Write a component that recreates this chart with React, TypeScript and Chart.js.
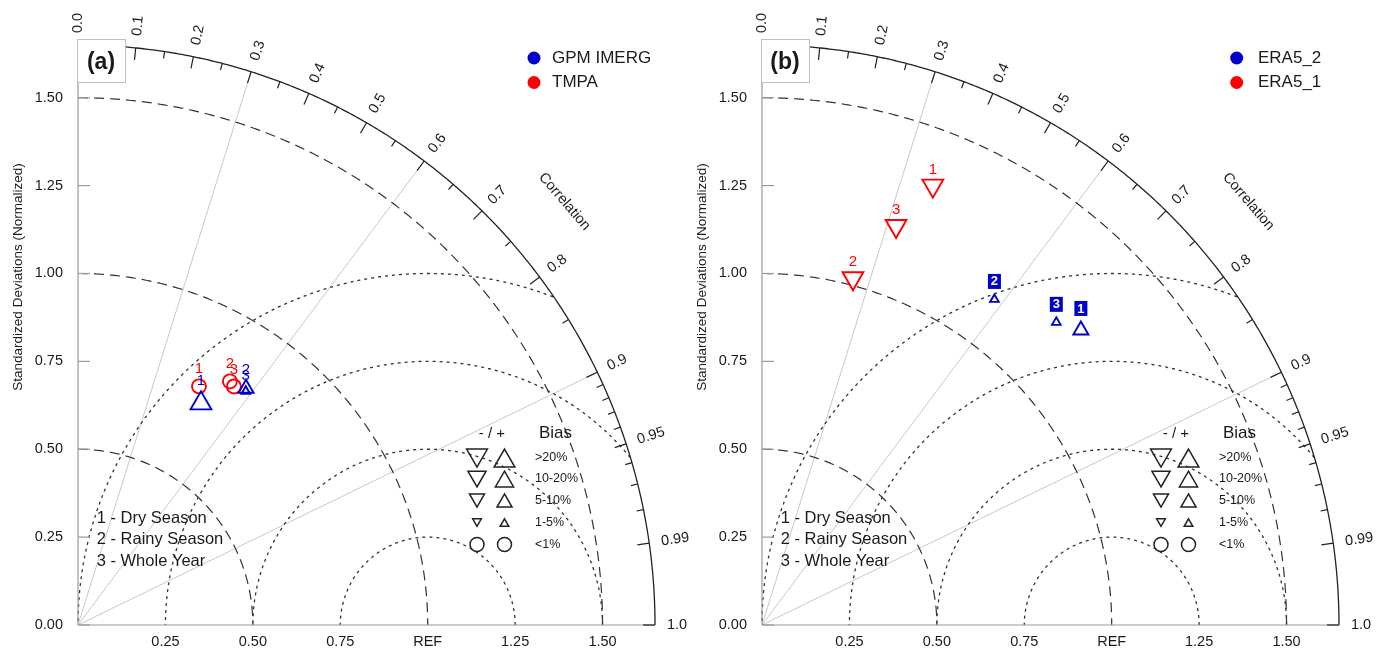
import React, { useEffect, useRef } from "react";
import { Chart, registerables } from "chart.js";
Chart.register(...registerables);

const BLUE = "#0000cc";
const RED = "#ff0000";
const FONT = "'Liberation Sans', Arial, Helvetica, sans-serif";
const TXT = "#1a1a1a";
const STD_MAX = 1.65;

// ---------- data ----------
const pointIds = ["1", "2", "3"];

// Panel (a)
const gpmStd = [0.722, 0.827, 0.82];
const gpmCorr = [0.487, 0.581, 0.585];
const gpmBias = [25, 7, 3];
const tmpaStd = [0.762, 0.818, 0.812];
const tmpaCorr = [0.454, 0.531, 0.549];
const tmpaBias = [0.5, 0.5, 0.5];

// Panel (b)
const era52Std = [1.239, 1.14, 1.204];
const era52Corr = [0.736, 0.583, 0.699];
const era52Bias = [7, 3, 3];
const era51Std = [1.342, 1.02, 1.198];
const era51Corr = [0.364, 0.255, 0.32];
const era51Bias = [-25, -25, -25];

// axes / ticks
const stdTickValues = [0, 0.25, 0.5, 0.75, 1.0, 1.25, 1.5];
const stdTickLabels = ["0.00", "0.25", "0.50", "0.75", "1.00", "1.25", "1.50"];
const xTickValues = [0.25, 0.5, 0.75, 1.0, 1.25, 1.5];
const xTickLabels = ["0.25", "0.50", "0.75", "REF", "1.25", "1.50"];
const corrTickValues = [0, 0.1, 0.2, 0.3, 0.4, 0.5, 0.6, 0.7, 0.8, 0.9, 0.95, 0.99, 1.0];
const corrTickLabels = ["0.0", "0.1", "0.2", "0.3", "0.4", "0.5", "0.6", "0.7", "0.8", "0.9", "0.95", "0.99", "1.0"];
const corrMinorTicks = [0.05, 0.15, 0.25, 0.35, 0.45, 0.55, 0.65, 0.75, 0.85, 0.91, 0.92, 0.93, 0.94, 0.96, 0.97, 0.98];
const corrLines = [0.3, 0.6, 0.9];
const stdArcs = [0.5, 1.0, 1.5];
const rmsCircles = [0.25, 0.5, 0.75, 1.0];
const biasClassLabels = [">20%", "10-20%", "5-10%", "1-5%", "<1%"];
const biasClassValues = [25, 15, 7, 3, 0.5];
const seasonLabels = ["1 - Dry Season", "2 - Rainy Season", "3 - Whole Year"];

// ---------- helpers ----------
function markerFor(bias: number) {
  const a = Math.abs(bias);
  if (a < 1) return { style: "circle", r: 7, rot: 0 };
  const r = a > 20 ? 12 : a > 10 ? 10.5 : a > 5 ? 8.7 : 5;
  return { style: "triangle", r, rot: bias < 0 ? 180 : 0 };
}

function series(label: string, std: number[], corr: number[], bias: number[], color: string) {
  const m = bias.map(markerFor);
  return {
    label,
    data: std.map((s, i) => ({ x: s * corr[i], y: s * Math.sqrt(1 - corr[i] * corr[i]) })),
    pointStyle: m.map((o) => o.style),
    pointRadius: m.map((o) => o.r),
    pointHoverRadius: m.map((o) => o.r),
    pointRotation: m.map((o) => o.rot),
    pointBorderColor: color,
    pointBackgroundColor: "rgba(0,0,0,0)",
    pointBorderWidth: 1.9,
    pointHoverBorderWidth: 1.9,
    showLine: false,
  };
}

function drawMarker(ctx: CanvasRenderingContext2D, x: number, y: number, style: string, r: number, rot: number) {
  ctx.beginPath();
  if (style === "circle") {
    ctx.arc(x, y, r, 0, Math.PI * 2);
  } else {
    let a = (rot * Math.PI) / 180;
    for (let k = 0; k < 3; k++) {
      const px = x + Math.sin(a) * r;
      const py = y - Math.cos(a) * r;
      if (k === 0) ctx.moveTo(px, py);
      else ctx.lineTo(px, py);
      a += (2 * Math.PI) / 3;
    }
    ctx.closePath();
  }
  ctx.stroke();
}

type PanelCfg = {
  tag: string;
  left: number;
  width: number;
  legendNames: string[];
  legendColors: string[];
  legendDotDx: number;
  legendTextDx: number;
  boxed: boolean[];
  datasets: any[];
};

function makePlugin(cfg: PanelCfg) {
  return {
    id: "taylor" + cfg.tag,
    beforeDatasetsDraw(chart: any) {
      const ctx: CanvasRenderingContext2D = chart.ctx;
      const xs = chart.scales.x;
      const ys = chart.scales.y;
      const P = (x: number, y: number) => [xs.getPixelForValue(x), ys.getPixelForValue(y)];
      const ox = xs.getPixelForValue(0);
      const oy = ys.getPixelForValue(0);
      const top = ys.getPixelForValue(STD_MAX);
      ctx.save();

      // radial correlation lines
      ctx.strokeStyle = "#c8c8c8";
      ctx.lineWidth = 1;
      for (const c of corrLines) {
        const s = Math.sqrt(1 - c * c);
        const [x, y] = P(STD_MAX * c, STD_MAX * s);
        ctx.beginPath();
        ctx.moveTo(ox, oy);
        ctx.lineTo(x, y);
        ctx.stroke();
      }

      // RMS (dotted) circles about REF
      ctx.setLineDash([3, 4]);
      ctx.strokeStyle = "#333";
      ctx.lineWidth = 1.3;
      for (const R of rmsCircles) {
        ctx.beginPath();
        let started = false;
        for (let k = 0; k <= 900; k++) {
          const phi = (Math.PI * k) / 900;
          const x = 1 + R * Math.cos(phi);
          const y = R * Math.sin(phi);
          if (x * x + y * y > STD_MAX * STD_MAX || x < 0) {
            started = false;
            continue;
          }
          const [px, py] = P(x, y);
          if (!started) {
            ctx.moveTo(px, py);
            started = true;
          } else ctx.lineTo(px, py);
        }
        ctx.stroke();
      }

      // std dev dashed arcs
      ctx.setLineDash([10, 6]);
      ctx.strokeStyle = "#333";
      ctx.lineWidth = 1.2;
      for (const r of stdArcs) {
        ctx.beginPath();
        for (let k = 0; k <= 400; k++) {
          const th = Math.PI / 2 - (Math.PI / 2) * (k / 400);
          const [px, py] = P(r * Math.cos(th), r * Math.sin(th));
          if (k === 0) ctx.moveTo(px, py);
          else ctx.lineTo(px, py);
        }
        ctx.stroke();
      }
      ctx.setLineDash([]);

      // outer arc
      ctx.strokeStyle = "#222";
      ctx.lineWidth = 1.3;
      ctx.beginPath();
      for (let k = 0; k <= 400; k++) {
        const th = (Math.PI / 2) * (k / 400);
        const [px, py] = P(STD_MAX * Math.cos(th), STD_MAX * Math.sin(th));
        if (k === 0) ctx.moveTo(px, py);
        else ctx.lineTo(px, py);
      }
      ctx.stroke();

      // axes
      ctx.strokeStyle = "#9a9a9a";
      ctx.lineWidth = 1.2;
      ctx.beginPath();
      ctx.moveTo(ox, oy);
      ctx.lineTo(ox, top);
      ctx.moveTo(ox, oy);
      ctx.lineTo(xs.getPixelForValue(STD_MAX), oy);
      ctx.stroke();

      // y ticks + labels
      ctx.font = `14.5px ${FONT}`;
      ctx.fillStyle = TXT;
      ctx.textAlign = "right";
      ctx.textBaseline = "middle";
      stdTickValues.forEach((v, i) => {
        const py = ys.getPixelForValue(v);
        ctx.beginPath();
        ctx.moveTo(ox, py);
        ctx.lineTo(ox + 12, py);
        ctx.stroke();
        ctx.fillText(stdTickLabels[i], ox - 15, py);
      });

      // x labels
      ctx.textAlign = "center";
      xTickValues.forEach((v, i) => {
        ctx.fillText(xTickLabels[i], xs.getPixelForValue(v), oy + 17);
      });

      // y title
      ctx.save();
      ctx.translate(ox - 60, ys.getPixelForValue(0.99));
      ctx.rotate(-Math.PI / 2);
      ctx.font = `13.5px ${FONT}`;
      ctx.textAlign = "center";
      ctx.fillText("Standardized Deviations (Normalized)", 0, 0);
      ctx.restore();

      // correlation ticks
      ctx.strokeStyle = "#222";
      ctx.lineWidth = 1.2;
      const tick = (c: number, len: number) => {
        const th = Math.acos(c);
        const [ax, ay] = P(STD_MAX * c, STD_MAX * Math.sin(th));
        ctx.beginPath();
        ctx.moveTo(ax, ay);
        ctx.lineTo(ax - len * Math.cos(th), ay + len * Math.sin(th));
        ctx.stroke();
      };
      corrTickValues.forEach((c) => tick(c, 12));
      corrMinorTicks.forEach((c) => tick(c, 7));

      ctx.font = `14.5px ${FONT}`;
      ctx.textAlign = "left";
      ctx.textBaseline = "middle";
      corrTickValues.forEach((c, i) => {
        const th = Math.acos(c);
        const [ax, ay] = P(STD_MAX * c, STD_MAX * Math.sin(th));
        ctx.save();
        ctx.translate(ax + 12 * Math.cos(th), ay - 12 * Math.sin(th));
        ctx.rotate(-th);
        ctx.fillText(corrTickLabels[i], 0, 0);
        ctx.restore();
      });
      {
        const c = 0.756;
        const th = Math.acos(c);
        const [lx, ly] = P(1.84 * c, 1.84 * Math.sin(th));
        ctx.save();
        ctx.translate(lx, ly);
        ctx.rotate(Math.PI / 2 - th);
        ctx.textAlign = "center";
        ctx.fillText("Correlation", 0, 0);
        ctx.restore();
      }

      // panel tag box
      ctx.fillStyle = "#fff";
      ctx.fillRect(ox - 1, top - 6, 48, 43);
      ctx.strokeStyle = "#c0c0c0";
      ctx.lineWidth = 1;
      ctx.strokeRect(ox - 1 + 0.5, top - 6 + 0.5, 48, 43);
      ctx.fillStyle = TXT;
      ctx.font = `bold 23px ${FONT}`;
      ctx.textAlign = "center";
      ctx.textBaseline = "middle";
      ctx.fillText(`(${cfg.tag})`, ox + 23, top + 18);

      // series legend
      ctx.font = `17px ${FONT}`;
      ctx.textAlign = "left";
      cfg.legendNames.forEach((name, i) => {
        const y = top + 13 + i * 24.5;
        ctx.fillStyle = cfg.legendColors[i];
        ctx.beginPath();
        ctx.arc(ox + cfg.legendDotDx, y, 6.5, 0, Math.PI * 2);
        ctx.fill();
        ctx.fillStyle = TXT;
        ctx.fillText(name, ox + cfg.legendTextDx, y);
      });

      // bias legend
      ctx.fillStyle = TXT;
      ctx.font = `15px ${FONT}`;
      ctx.textAlign = "center";
      ctx.fillText("- / +", ox + 414, oy - 191.5);
      ctx.font = `17px ${FONT}`;
      ctx.textAlign = "left";
      ctx.fillText("Bias", ox + 461, oy - 191.5);
      const rowsDy = [167, 146, 124.5, 102.5, 80.5];
      ctx.strokeStyle = "#222";
      ctx.lineWidth = 1.5;
      biasClassValues.forEach((b, i) => {
        const y = oy - rowsDy[i];
        const mn = markerFor(-b);
        const mp = markerFor(b);
        const dn = mn.style === "triangle" ? -mn.r / 4 : 0;
        const dp = mp.style === "triangle" ? mp.r / 4 : 0;
        drawMarker(ctx, ox + 399, y + dn, mn.style, mn.r, mn.rot);
        drawMarker(ctx, ox + 426.5, y + dp, mp.style, mp.r, mp.rot);
        ctx.font = `12.5px ${FONT}`;
        ctx.fillStyle = TXT;
        ctx.textAlign = "left";
        ctx.fillText(biasClassLabels[i], ox + 457, y);
      });

      // season legend
      ctx.font = `16.5px ${FONT}`;
      ctx.fillStyle = TXT;
      ctx.textAlign = "left";
      const sDy = [107, 86, 64];
      seasonLabels.forEach((s, i) => ctx.fillText(s, ox + 18.7, oy - sDy[i]));

      ctx.restore();
    },
    afterDatasetsDraw(chart: any) {
      const ctx: CanvasRenderingContext2D = chart.ctx;
      ctx.save();
      ctx.textAlign = "center";
      ctx.textBaseline = "middle";
      chart.data.datasets.forEach((ds: any, di: number) => {
        const meta = chart.getDatasetMeta(di);
        const color = ds.pointBorderColor;
        meta.data.forEach((el: any, i: number) => {
          const r = ds.pointRadius[i];
          const down = ds.pointStyle[i] === "triangle" && ds.pointRotation[i] === 180;
          const topY = el.y - (down ? r / 2 : r);
          if (cfg.boxed[di]) {
            const cy = topY - 13;
            ctx.fillStyle = color;
            ctx.fillRect(el.x - 6.5, cy - 7.5, 13, 15);
            ctx.fillStyle = "#fff";
            ctx.font = `bold 13px ${FONT}`;
            ctx.fillText(pointIds[i], el.x, cy + 0.5);
          } else {
            ctx.fillStyle = color;
            ctx.font = `15px ${FONT}`;
            ctx.fillText(pointIds[i], el.x, topY - 10);
          }
        });
      });
      ctx.restore();
    },
  };
}

const panelA: PanelCfg = {
  tag: "a",
  left: 0,
  width: 703,
  legendNames: ["GPM IMERG", "TMPA"],
  legendColors: [BLUE, RED],
  legendDotDx: 456,
  legendTextDx: 474,
  boxed: [false, false],
  datasets: [
    series("GPM IMERG", gpmStd, gpmCorr, gpmBias, BLUE),
    series("TMPA", tmpaStd, tmpaCorr, tmpaBias, RED),
  ],
};

const panelB: PanelCfg = {
  tag: "b",
  left: 684,
  width: 703,
  legendNames: ["ERA5_2", "ERA5_1"],
  legendColors: [BLUE, RED],
  legendDotDx: 474.7,
  legendTextDx: 496,
  boxed: [true, false],
  datasets: [
    series("ERA5_2", era52Std, era52Corr, era52Bias, BLUE),
    series("ERA5_1", era51Std, era51Corr, era51Bias, RED),
  ],
};

function TaylorPanel({ cfg }: { cfg: PanelCfg }) {
  const ref = useRef<HTMLCanvasElement>(null);
  useEffect(() => {
    const chart = new Chart(ref.current as HTMLCanvasElement, {
      type: "scatter",
      data: { datasets: cfg.datasets },
      options: {
        animation: false,
        responsive: false,
        events: [],
        layout: {
          padding: { left: 78, top: 45, right: cfg.width - 655, bottom: 27 },
          autoPadding: false,
        },
        scales: {
          x: { type: "linear", min: 0, max: STD_MAX, display: false },
          y: { type: "linear", min: 0, max: STD_MAX, display: false },
        },
        plugins: { legend: { display: false }, tooltip: { enabled: false } },
      } as any,
      plugins: [makePlugin(cfg) as any],
    });
    return () => chart.destroy();
  }, []);
  return (
    <canvas
      ref={ref}
      width={cfg.width}
      height={652}
      style={{ position: "absolute", left: cfg.left, top: 0, width: cfg.width, height: 652 }}
    />
  );
}

export default function App() {
  return (
    <div style={{ position: "absolute", left: 0, top: 0, width: 1387, height: 652, background: "#fff", overflow: "hidden" }}>
      <TaylorPanel cfg={panelA} />
      <TaylorPanel cfg={panelB} />
    </div>
  );
}
